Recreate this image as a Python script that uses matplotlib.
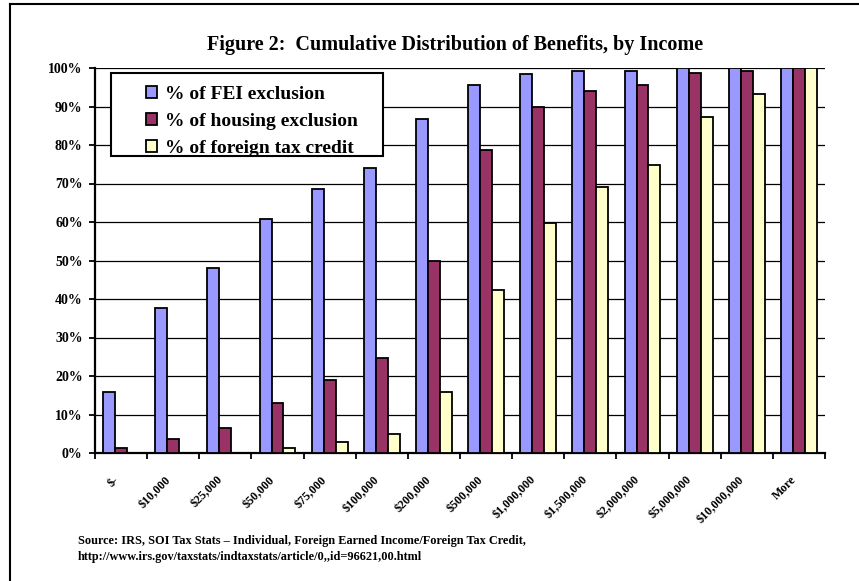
import matplotlib
matplotlib.use("Agg")
import matplotlib.pyplot as plt
from matplotlib.lines import Line2D
from matplotlib.patches import Rectangle
import numpy as np

plt.rcParams['font.family'] = ['Liberation Serif', 'DejaVu Serif']
plt.rcParams['font.weight'] = 'bold'

# income brackets (x axis)
brackets = ["$-", "$10,000", "$25,000", "$50,000", "$75,000", "$100,000",
            "$200,000", "$500,000", "$1,000,000", "$1,500,000", "$2,000,000",
            "$5,000,000", "$10,000,000", "More"]

# cumulative shares, in percent
fei_excl = [15.8, 37.6, 48.0, 60.9, 68.7, 73.9, 86.8, 95.7, 98.4, 99.3, 99.3, 100, 100, 100]
housing_excl = [1.2, 3.7, 6.4, 13.1, 18.9, 24.6, 50.0, 78.6, 90.0, 94.1, 95.7, 98.8, 99.3, 100]
foreign_tax_credit = [0, 0, 0, 1.2, 2.8, 4.9, 15.8, 42.3, 59.8, 69.2, 74.9, 87.4, 93.2, 100]

series_names = ["% of FEI exclusion", "% of housing exclusion", "% of foreign tax credit"]
series_colors = ["#9999FF", "#993366", "#FFFFCC"]

W, H = 859, 581
fig = plt.figure(figsize=(W / 100, H / 100), dpi=100)
ax = fig.add_axes([95 / W, 1 - 453 / H, 730 / W, 385 / H])

x = np.arange(len(brackets))
bw = 0.23
for i, (vals, name, col) in enumerate(zip([fei_excl, housing_excl, foreign_tax_credit],
                                          series_names, series_colors)):
    ax.bar(x + (i - 1) * bw, vals, bw, color=col, edgecolor='black',
           linewidth=1.3, label=name, zorder=3)

ax.set_xlim(-0.5, len(brackets) - 0.5)
ax.set_ylim(0, 100)

# y axis
ax.set_yticks(np.arange(0, 101, 10))
ax.set_yticklabels([f"{v}%" for v in range(0, 101, 10)], fontsize=10, fontweight='bold')
ax.tick_params(axis='y', length=4, width=1.3, pad=5)
ax.grid(axis='y', color='black', linewidth=0.9, zorder=0)

# x axis: ticks between categories, labels at centres
ax.set_xticks(x)
ax.set_xticklabels(brackets, rotation=45, ha='right', va='top',
                   fontsize=8.7, fontweight='bold')
ax.tick_params(axis='x', length=0, pad=15)
ax.set_xticks(np.arange(-0.5, len(brackets)), minor=True)
ax.tick_params(axis='x', which='minor', length=4, width=1.3)

for s in ['top', 'right']:
    ax.spines[s].set_visible(False)
ax.spines['left'].set_linewidth(1.6)
ax.spines['bottom'].set_linewidth(1.6)

# legend box drawn separately so the inner padding matches
box = Rectangle(((111 - 95) / 730, (453 - 156) / 385), 272 / 730, 83 / 385,
                transform=ax.transAxes, facecolor='white', edgecolor='black',
                linewidth=1.5, zorder=5)
ax.add_patch(box)
leg = ax.legend(loc='upper left', bbox_to_anchor=((146 - 95) / 730, (453 - 86) / 385),
                frameon=False, handlelength=0.55, handleheight=0.55,
                handletextpad=0.45, labelspacing=0.52, borderpad=0,
                borderaxespad=0, prop={'weight': 'bold', 'size': 14})
leg.set_zorder(6)

fig.text(455 / W, 1 - 45 / H, "Figure 2:  Cumulative Distribution of Benefits, by Income",
         ha='center', va='center', fontsize=14.5, fontweight='bold')

fig.text(78 / W, 1 - 541 / H,
         "Source: IRS, SOI Tax Stats \u2013 Individual, Foreign Earned Income/Foreign Tax Credit,",
         ha='left', va='center', fontsize=8.8, fontweight='bold')
fig.text(78 / W, 1 - 557 / H,
         "http://www.irs.gov/taxstats/indtaxstats/article/0,,id=96621,00.html",
         ha='left', va='center', fontsize=8.8, fontweight='bold')

# outer frame (left and top edges)
fig.add_artist(Line2D([10 / W, 10 / W], [0, 1 - 4 / H], color='black', linewidth=1.5))
fig.add_artist(Line2D([10 / W, 1], [1 - 4 / H, 1 - 4 / H], color='black', linewidth=1.5))

fig.savefig("out.png", dpi=100)
